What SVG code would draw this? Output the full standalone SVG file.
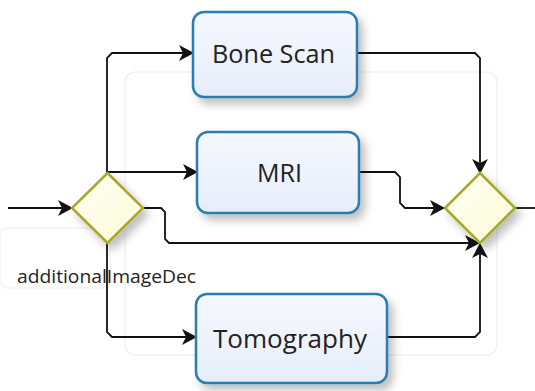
<svg xmlns="http://www.w3.org/2000/svg" width="535" height="391" viewBox="0 0 535 391">
<style>
.box{fill:url(#boxGrad);stroke:#2b7db3;stroke-width:2.5}
.gw{fill:url(#gwGrad);stroke:#a8a826;stroke-width:2.5}
.lbl{font-family:"Open Sans","Liberation Sans",Arial,sans-serif;fill:#222}
.edge{fill:none;stroke:#111;stroke-width:1.8}
.ghost{fill:none;stroke:#f2f2f2;stroke-width:1.5}
</style>
<defs>
<linearGradient id="boxGrad" x1="0" y1="0" x2="0" y2="1">
<stop offset="0" stop-color="#f6f8fe"/><stop offset="1" stop-color="#e6edfa"/>
</linearGradient>
<linearGradient id="gwGrad" x1="0" y1="0" x2="1" y2="1">
<stop offset="0" stop-color="#fefef2"/><stop offset="1" stop-color="#fbfbd8"/>
</linearGradient>
<filter id="sh" x="-20%" y="-20%" width="150%" height="160%">
<feDropShadow dx="5" dy="6" stdDeviation="4" flood-color="#000" flood-opacity="0.25"/>
</filter>
<marker id="arr" viewBox="0 0 15 16" markerWidth="15" markerHeight="16" refX="14" refY="8" orient="auto" markerUnits="userSpaceOnUse">
<path d="M0,0 L15,8 L0,16 L4,8 Z" fill="#111"/>
</marker>
</defs>
<g id="background">
<rect class="ghost" x="125" y="72" width="372" height="283" rx="10"/>
<rect class="ghost" x="0" y="228" width="110" height="60" rx="8"/>
</g>
<g id="connectors">
<path class="edge" d="M8,208 H72" marker-end="url(#arr)"/>
<path class="edge" d="M107,173 V58 L112,53 H193" marker-end="url(#arr)"/>
<path class="edge" d="M107,172 H197" marker-end="url(#arr)"/>
<path class="edge" d="M143,208 H161 L165,212 V239 L169,243 H479" marker-end="url(#arr)"/>
<path class="edge" d="M107,243 V332 L112,337 H196" marker-end="url(#arr)"/>
<path class="edge" d="M357,53 H475 L480,58 V173" marker-end="url(#arr)"/>
<path class="edge" d="M359,172 H395 L400,177 V203 L405,208 H444" marker-end="url(#arr)"/>
<path class="edge" d="M387,337 H475 L480,332 V244" marker-end="url(#arr)"/>
<path class="edge" d="M515,208 H535"/>
</g>
<g id="additionalImageDec">
<polygon class="gw" filter="url(#sh)" points="107.5,173 143,208 107.5,243 72,208"/>
<text class="lbl" x="17" y="283" font-size="19" textLength="179" lengthAdjust="spacingAndGlyphs">additionalImageDec</text>
</g>
<g id="boneScan">
<rect class="box" filter="url(#sh)" x="193" y="12" width="164" height="85" rx="11"/>
<text class="lbl" x="212" y="63" font-size="26" textLength="123" lengthAdjust="spacingAndGlyphs">Bone Scan</text>
</g>
<g id="mri">
<rect class="box" filter="url(#sh)" x="197" y="132" width="162" height="81" rx="11"/>
<text class="lbl" x="257" y="182" font-size="26" textLength="45" lengthAdjust="spacingAndGlyphs">MRI</text>
</g>
<g id="tomography">
<rect class="box" filter="url(#sh)" x="196" y="294" width="191" height="89" rx="11"/>
<text class="lbl" x="213" y="348" font-size="26" textLength="154" lengthAdjust="spacingAndGlyphs">Tomography</text>
</g>
<g id="joinGateway">
<polygon class="gw" filter="url(#sh)" points="480,173 515,208 480,243 445,208"/>
</g>
</svg>
